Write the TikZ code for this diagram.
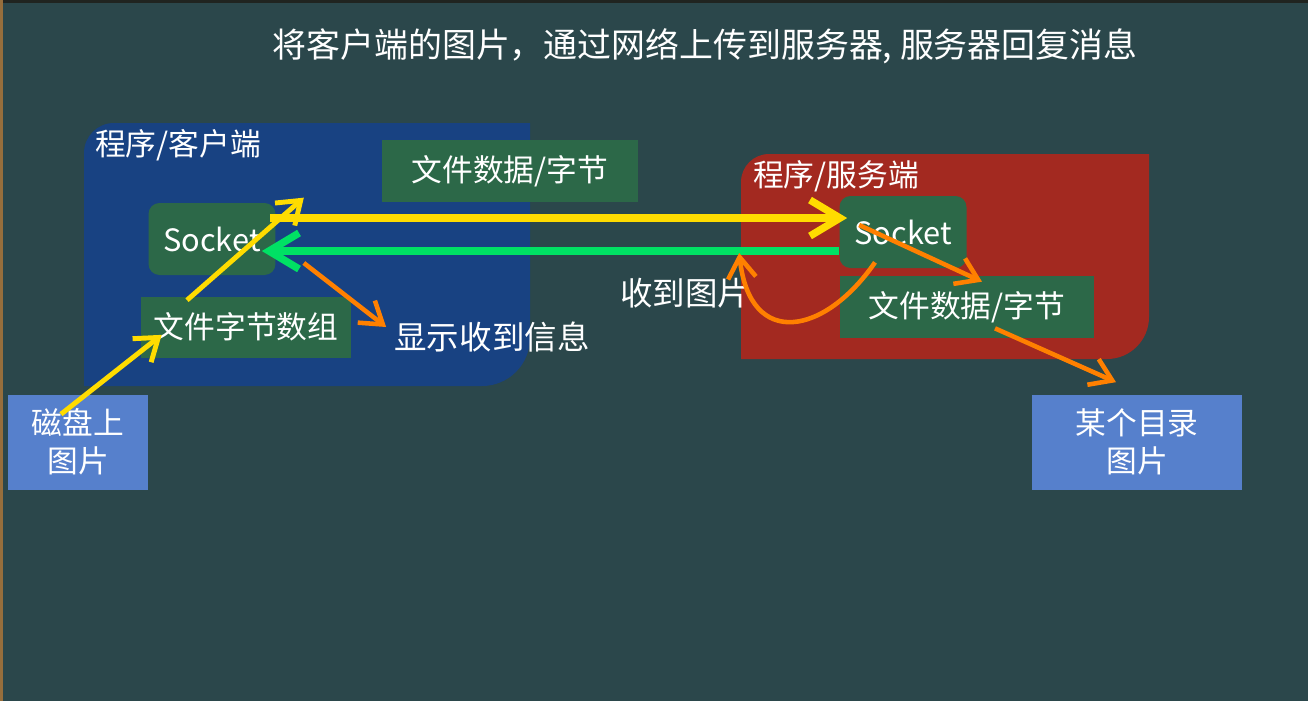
\documentclass[tikz,border=0pt]{standalone}
\usepackage{fontspec}
\usepackage{xcolor}
\usepackage{tikz}
\usetikzlibrary{arrows.meta,calc}
\newfontfamily\cjk{Noto Sans CJK SC}
\definecolor{slateBg}{RGB}{43,71,75}
\definecolor{frameBrown}{RGB}{150,110,60}
\definecolor{frameDark}{RGB}{32,36,32}
\definecolor{clientBlue}{RGB}{24,66,130}
\definecolor{serverRed}{RGB}{163,41,32}
\definecolor{boxGreen}{RGB}{44,104,72}
\definecolor{diskBlue}{RGB}{86,128,204}
\definecolor{arrowYellow}{RGB}{255,220,0}
\definecolor{arrowGreen}{RGB}{0,225,100}
\definecolor{arrowOrange}{RGB}{255,128,0}

\begin{document}
\begin{tikzpicture}[x=0.02cm,y=-0.02cm,
  txt/.style={text=white,inner sep=0pt,font=\cjk\fontsize{17.5}{21.5}\selectfont},
  bigtxt/.style={txt,font=\cjk\fontsize{18.5}{22}\selectfont},
  gbox/.style={txt,fill=boxGreen,minimum height=1.24cm},
  sockbox/.style={gbox,rounded corners=0.22cm,minimum width=2.54cm,minimum height=1.44cm},
  dbox/.style={txt,fill=diskBlue,align=center,minimum height=1.9cm},
  yarr/.style={-{Straight Barb[length=0.42cm,width=0.6cm]},line width=2.8pt,draw=arrowYellow},
  bigarr/.style={-{Straight Barb[length=0.6cm,width=0.72cm]},line width=4.2pt},
  oarr/.style={-{Straight Barb[length=0.42cm,width=0.56cm]},line width=2.6pt,draw=arrowOrange}
]
\fill[slateBg] (0,0) rectangle (1308,701);
\fill[frameBrown] (0,0) rectangle (3,701);
\fill[frameDark] (3,0) rectangle (1308,3);

\fill[clientBlue] (84,386) -- (84,153) arc[start angle=180,end angle=270,radius=30] -- (530,123)
  -- (530,338) arc[start angle=0,end angle=90,radius=48] -- cycle;
\fill[serverRed] (741,359) -- (741,182) arc[start angle=180,end angle=270,radius=28] -- (1149,154)
  -- (1149,317) arc[start angle=0,end angle=90,radius=42] -- cycle;

\node[txt,font=\cjk\fontsize{19.3}{23}\selectfont] (title) at (705,46) {将客户端的图片，通过网络上传到服务器, 服务器回复消息};
\node[txt] (clientLbl) at (178,145) {程序/客户端};
\node[txt] (serverLbl) at (836,176) {程序/服务端};

\node[gbox,minimum width=5.12cm] (wireData) at (510,171) {文件数据/字节};
\node[sockbox] (cSock) at (212,239) {Socket};
\node[gbox,minimum width=4.2cm,minimum height=1.22cm] (byteArr) at (246,327) {文件字节数组};
\node[sockbox] (sSock) at (903,232) {Socket};
\node[gbox,minimum width=5.08cm] (sData) at (967,307) {文件数据/字节};

\node[dbox,minimum width=2.8cm] (disk) at (78,442) {磁盘上\\图片};
\node[dbox,minimum width=4.22cm] (target) at (1137,442) {某个目录\\图片};

\node[bigtxt] (showMsg) at (492,337) {显示收到信息};
\node[bigtxt] (gotPic) at (685,293) {收到图片};

\draw[yarr] ($(disk.north)+(-17,20)$) -- ($(byteArr.south west)+(21,-23)$);
\draw[yarr] ($(byteArr.north)+(-59,4)$) -- ($(cSock.north east)+(28,-5)$);
\draw[bigarr,draw=arrowYellow] ($(cSock.east)+(-6,-21)$) -- ($(sSock.west)+(8,-14)$);
\draw[bigarr,draw=arrowGreen] ($(sSock.west)+(0,19)$) -- ($(cSock.east)+(-14,12)$);
\draw[oarr] ($(cSock.east)+(28,24)$) -- ($(showMsg.west)+(-8,-10)$);
\draw[oarr] ($(sSock.west)+(20,-7)$) -- ($(sData.north)+(15,6)$);
\draw[oarr] ($(sSock.south)+(-28,-6)$) .. controls (825,335) and (750,350) .. ($(sSock.west)+(-100,21)$);
\draw[oarr] ($(sData.south)+(28,-10)$) -- ($(target.north)+(-21,-12)$);
\end{tikzpicture}
\end{document}
